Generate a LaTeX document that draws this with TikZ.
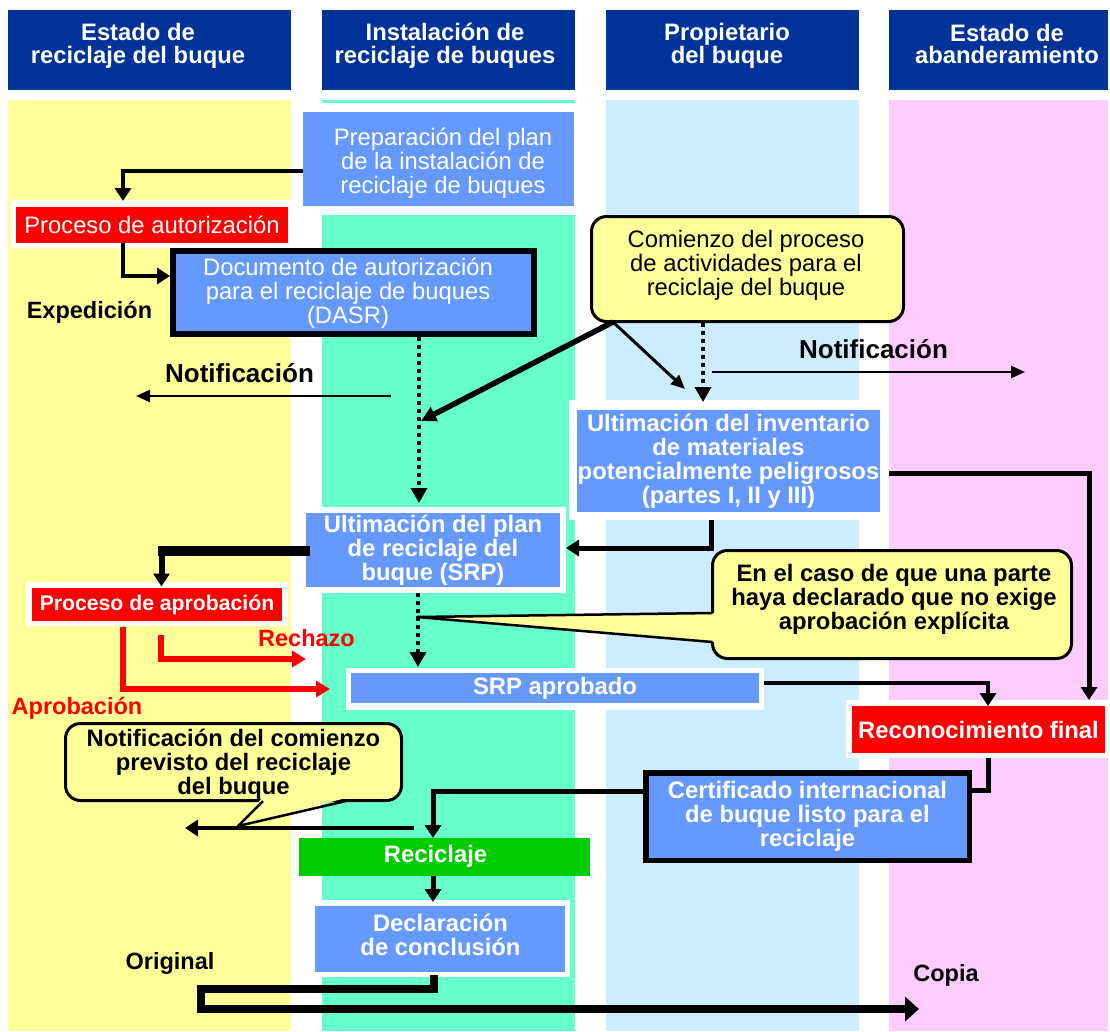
\documentclass[tikz,border=0pt]{standalone}
\usepackage{fontspec}
\setmainfont{Liberation Sans}
\usetikzlibrary{arrows.meta}
\definecolor{hdrblue}{HTML}{003399}
\definecolor{laneA}{HTML}{FFFF99}
\definecolor{laneB}{HTML}{66FFCC}
\definecolor{laneC}{HTML}{CCECFF}
\definecolor{laneD}{HTML}{FFCCFF}
\definecolor{boxblue}{HTML}{6699FF}
\definecolor{boxred}{HTML}{FF0000}
\definecolor{boxgreen}{HTML}{00CC00}
\definecolor{callfill}{HTML}{FFFF99}
\tikzset{
  rtext/.style={font=\fontsize{23.8}{24}\selectfont},
  btext/.style={font=\fontsize{23.8}{24}\selectfont\bfseries},
  ltext/.style={font=\fontsize{23.5}{24}\selectfont\bfseries},
  plain/.style={inner sep=0pt, outer sep=0pt, align=center},
  hdrbox/.style={plain, fill=hdrblue},
  hdrtxt/.style={plain, text=white, font=\fontsize{23.8}{22.6}\selectfont\bfseries},
  bluebox/.style={plain, fill=boxblue, text=white},
  redbox/.style={plain, fill=boxred, text=white},
  greenbox/.style={plain, fill=boxgreen},
  framebox/.style={plain, fill=boxblue, text=white, draw=black},
  callbox/.style={plain, fill=callfill, draw=black, line width=3pt, outer sep=1.5pt, rounded corners=15pt},
  blk/.style={draw=black, line width=4.5pt, -{Triangle[length=13pt,width=16pt]}},
  blkline/.style={draw=black, line width=5pt},
  dotarr/.style={draw=black, line width=3.5pt, dash pattern=on 3.5pt off 4.5pt, -{Triangle[length=15pt,width=16pt]}},
  thinarr/.style={draw=black, line width=2.5pt, -{Triangle[length=14pt,width=12pt]}},
  redarr/.style={draw=boxred, line width=5.5pt, -{Triangle[length=14pt,width=16pt]}},
  tail/.style={draw=black, line width=2.5pt, line join=round}
}
\begin{document}
\begin{tikzpicture}[x=1pt,y=-1pt]
\useasboundingbox (0,0) rectangle (1110,1031);
\fill[white] (0,0) rectangle (1110,1031);

% lanes
\fill[laneA] (8,100) rectangle (291,1031);
\fill[laneB] (322,100) rectangle (575,1031);
\fill[laneC] (606,100) rectangle (859,1031);
\fill[laneD] (889,100) rectangle (1108,1031);

% white surrounds
\fill[white] (302,103) rectangle (576,215);
\fill[white] (11,200) rectangle (292,248);
\fill[white] (305,507) rectangle (566,593);
\fill[white] (569,400) rectangle (887,520);
\fill[white] (26,582) rectangle (288,626);
\fill[white] (346,668) rectangle (764,710);
\fill[white] (846,700) rectangle (1110,758);
\fill[white] (311,900) rectangle (570,977);

% headers
\node[hdrbox, minimum width=283pt, minimum height=80pt] (h1) at (149.5,50) {};
\node[hdrtxt] (h1t) at (138,46) {Estado de\\reciclaje del buque};
\node[hdrbox, minimum width=253pt, minimum height=80pt] (h2) at (448.5,50) {};
\node[hdrtxt] (h2t) at (445,46) {Instalación de\\reciclaje de buques};
\node[hdrbox, minimum width=253pt, minimum height=80pt] (h3) at (732.5,50) {};
\node[hdrtxt] (h3t) at (727,46) {Propietario\\del buque};
\node[hdrbox, minimum width=219pt, minimum height=80pt] (h4) at (998.5,50) {};
\node[hdrtxt] (h4t) at (1007,44) {Estado de\\abanderamiento};

% boxes
\node[bluebox, minimum width=271pt, minimum height=94pt] (prep) at (438.5,159) {};
\node[plain, rtext, text=white] (prept) at (443,163) {Preparación del plan\\de la instalación de\\reciclaje de buques};
\node[redbox, rtext, minimum width=272pt, minimum height=36pt] (autz) at (152,225) {Proceso de autorización};
\node[framebox, line width=6pt, outer sep=3pt, minimum width=361pt, minimum height=83pt] (dasr) at (353.5,292.5) {};
\node[plain, rtext, text=white] (dasrt) at (348,293) {Documento de autorización\\para el reciclaje de buques\\(DASR)};
\node[callbox, minimum width=312pt, minimum height=105pt] (com) at (747.5,269) {};
\node[plain, rtext] (comt) at (746,265) {Comienzo del proceso\\de actividades para el\\reciclaje del buque};
\node[bluebox, btext, minimum width=303pt, minimum height=102pt] (inv) at (728.5,461) {Ultimación del inventario\\de materiales\\potencialmente peligrosos\\(partes I, II y III)};
\node[bluebox, btext, minimum width=254pt, minimum height=74pt] (plan) at (433,550) {Ultimación del plan\\de reciclaje del\\buque (SRP)};
\node[redbox, font=\fontsize{21.2}{22}\selectfont\bfseries, minimum width=250pt, minimum height=33pt] (aprob) at (157,604.5) {Proceso de aprobación};
\node[bluebox, btext, minimum width=408pt, minimum height=30pt] (srpa) at (555,688) {SRP aprobado};
\node[redbox, btext, minimum width=253pt, minimum height=47pt] (recon) at (978.5,729.5) {Reconocimiento final};
\node[framebox, btext, line width=5.5pt, outer sep=2.75pt, minimum width=323.5pt, minimum height=87.5pt] (cert) at (807.5,816.5) {Certificado internacional\\de buque listo para el\\reciclaje};
\node[greenbox, minimum width=291pt, minimum height=38pt] (recic) at (444.5,857) {};
\node[plain, btext, text=white] (recict) at (435.5,856.5) {Reciclaje};
\node[bluebox, minimum width=250pt, minimum height=66pt] (decl) at (440,939) {};
\node[plain, btext, text=white] (declt) at (440.5,935) {Declaración\\de conclusión};

% callout: En el caso...
\node[callbox, minimum width=359pt, minimum height=108pt] (encaso) at (892,604.5) {};
\coordinate (tipA) at (417,617);
\fill[callfill] (715,613) -- (tipA) -- (715,642) -- cycle;
\draw[tail] (712.5,613) -- (tipA) -- (712.5,642);
\node[plain, btext] (encasot) at (894,599) {En el caso de que una parte\\haya declarado que no exige\\aprobación explícita};

% callout: Notificación del comienzo...
\node[callbox, minimum width=336pt, minimum height=77pt] (notif) at (233.5,762) {};
\coordinate (tipB) at (238,826);
\fill[callfill] (262,798) -- (tipB) -- (346,798) -- cycle;
\draw[tail] (263,801) -- (tipB) -- (346,801);
\node[plain, btext] (notift) at (233.5,764.5) {Notificación del comienzo\\previsto del reciclaje\\del buque};

% coordinates
\coordinate (c1) at (123,171);
\coordinate (c2) at (123,276);
\coordinate (c3) at (419,0);
\coordinate (cs) at (613,322);
\coordinate (e1) at (421,421);
\coordinate (e2) at (685,389);
\coordinate (c6) at (703,0);
\coordinate (c8) at (711,548);
\coordinate (c9) at (1089,473);
\coordinate (c10) at (161.5,551);
\coordinate (c10b) at (158,551);
\coordinate (c10v) at (161.5,546);
\coordinate (c11) at (418,0);
\coordinate (r1) at (161,635);
\coordinate (r3) at (306,659);
\coordinate (c12) at (123,0);
\coordinate (a3) at (330,689);
\coordinate (c13) at (988,683);
\coordinate (c14) at (988,790);
\coordinate (c15) at (433,791);
\coordinate (n1) at (391,396);
\coordinate (n2) at (136,396);
\coordinate (n5) at (712,372);
\coordinate (n6) at (1025,372);
\coordinate (n3) at (414,828);
\coordinate (n4) at (185,828);
\coordinate (o1) at (434,989);
\coordinate (o2) at (201,989);
\coordinate (o3) at (201,1009);
\coordinate (o4) at (919,1009);

% connectors
\draw[blk, shorten >=6pt] (prep.west |- c1) -| (c1 |- autz.north);
\draw[blk] (c1 |- autz.south) -- (c2) -- (dasr.west |- c2);
\draw[dotarr, shorten >=10pt] (c3 |- dasr.south) -- (c3 |- plan.north);
\draw[blk, line width=5.5pt, -{Triangle[length=15pt,width=15pt]}] (cs) -- (e1);
\draw[thinarr, line width=3pt] (cs) -- (e2);
\draw[dotarr, shorten >=8pt] (c6 |- com.south) -- (c6 |- inv.north);
\draw[thinarr] (n1) -- (n2);
\draw[thinarr] (n5) -- (n6);
\draw[blk, line width=5pt, shorten <=8pt, shorten >=6pt] (c8 |- inv.south) |- (plan.east |- c8);
\draw[blk, line width=5pt, shorten <=9pt, shorten >=6pt] (inv.east |- c9) -| (c9 |- recon.north);
\draw[line width=10pt, shorten <=-4pt] (plan.west |- c10) -- (c10b);
\draw[blk, line width=6pt, shorten >=1.5pt] (c10v) -- (c10v |- aprob.north);
\draw[dotarr, shorten <=6pt, shorten >=6pt] (c11 |- plan.south) -- (c11 |- srpa.north);
\draw[redarr] (r1) |- (r3);
\draw[redarr, shorten <=6pt] (c12 |- aprob.south) |- (a3);
\draw[blk, line width=4.5pt, shorten <=5pt] (srpa.east |- c13) -| (c13 |- recon.north);
\draw[blkline, shorten <=5pt] (c13 |- recon.south) |- (cert.east |- c14);
\draw[blk, line width=5pt] (cert.west |- c15) -| (c15 |- recic.north);
\draw[blk, line width=4.5pt] (n3) -- (n4);
\draw[blk, line width=5pt, shorten >=4pt] (c15 |- recic.south) -- (c15 |- decl.north);
\draw[line width=8pt, -{Triangle[length=14pt,width=24pt]}, shorten <=3pt] (o1 |- decl.south) -- (o1) -- (o2) -- (o3) -- (o4);

% free labels
\node[plain, ltext, anchor=base] (expd) at (89.5,318) {Expedición};
\node[plain, font=\fontsize{26}{26}\selectfont\bfseries, anchor=base] (notl) at (239.5,382) {Notificación};
\node[plain, font=\fontsize{26}{26}\selectfont\bfseries, anchor=base] (notr) at (873.5,358.5) {Notificación};
\node[plain, ltext, text=boxred, anchor=base] (rech) at (306.5,646) {Rechazo};
\node[plain, ltext, text=boxred, anchor=base] (aprl) at (77,714) {Aprobación};
\node[plain, ltext, anchor=base] (orig) at (170,969) {Original};
\node[plain, ltext, anchor=base] (copy) at (946,981) {Copia};
\end{tikzpicture}
\end{document}
